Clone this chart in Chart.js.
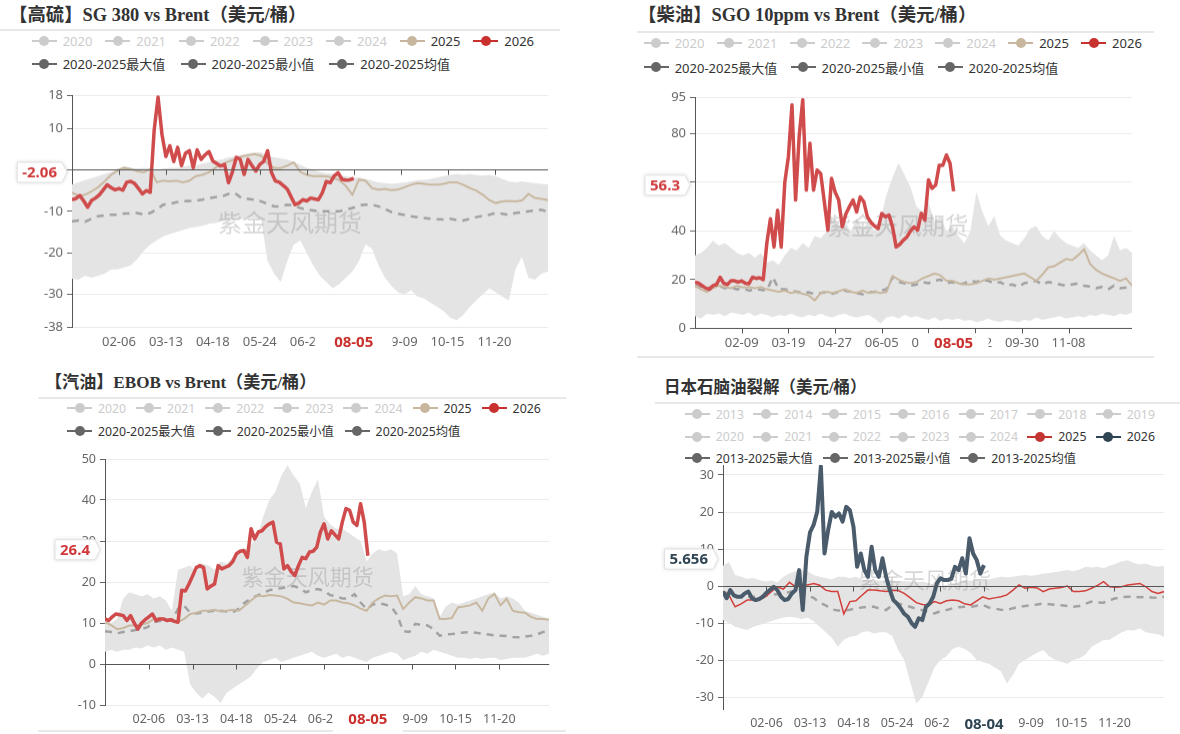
<!DOCTYPE html>
<html>
<head>
<meta charset="utf-8">
<script src="https://cdn.jsdelivr.net/npm/chart.js"></script>
<style>
  body { margin: 0; width: 1180px; height: 734px; background: #fff; position: relative; overflow: hidden;
         font-family: "Noto Sans", "Noto Sans CJK SC", sans-serif; }
  .title { position: absolute; font-weight: bold; font-family: "Liberation Serif", "Noto Sans CJK SC", serif;
           color: #333; white-space: nowrap; line-height: 22px; }
  .rule { position: absolute; height: 2px; background: #e8e8e8; }
  .li { position: absolute; display: flex; align-items: center; height: 18px; white-space: nowrap; color: #333; }
  .li.off { color: #ccc; }
  .li i { position: relative; width: 25px; height: 10px; margin-right: 6px; }
  .li i:before { content: ""; position: absolute; left: 0; width: 25px; top: 4px; height: 2px; background: var(--c); }
  .li i:after { content: ""; position: absolute; left: 7.5px; top: 0; width: 10px; height: 10px; border-radius: 50%; background: var(--c); }
  .box { position: absolute; }
</style>
</head>
<body>
<script>
// x 轴：闰年日期，按天编号 0..365
const monthLen = [31, 29, 31, 30, 31, 30, 31, 31, 30, 31, 30, 31]
const dates = []
monthLen.forEach((n, m) => {
  for (let d = 1; d <= n; d++) dates.push(String(m + 1).padStart(2, '0') + '-' + String(d).padStart(2, '0'))
})
const days5 = []   // 历史区间/均值/2025 的取样日
for (let d = 0; d <= 365; d += 5) days5.push(d)
const days3 = []   // 2026 的取样日
for (let d = 0; d <= 216; d += 3) days3.push(d)
const latestDay = 216

const xTicks36 = [36, 72, 108, 144, 180, 216, 252, 288, 324]
const xTicks39 = [39, 78, 117, 156, 195, 234, 273, 312]

// 【高硫】SG 380 vs Brent
const sgYTicks = [-38, -30, -20, -10, 0, 10, 18]
const sgMax = [-3.5,-3.0,-2.5,-2.0,-1.5,-1.0,-0.5,0.3,0.8,0.5,
  0.3,0.5,0.2,0.0,0.3,0.5,0.4,0.8,1.0,1.0,
  1.5,1.8,2.3,2.5,3.0,3.2,3.6,4.0,4.2,4.2,
  3.5,3.0,2.8,2.5,2.0,1.2,0.5,0.0,-0.5,-0.8,
  -1.0,-1.2,-1.5,-1.8,-1.8,-2.2,-2.6,-3.0,-3.2,-3.4,
  -3.2,-3.0,-2.8,-2.5,-2.4,-2.2,-1.8,-1.5,-1.2,-1.0,
  -1.2,-1.0,-1.3,-1.4,-1.2,-1.6,-2.2,-2.8,-3.0,-2.8,
  -3.0,-3.2,-3.4,-3.5]
const sgMin = [-26.2,-26.5,-25.5,-26,-25.5,-25,-24,-24,-23.5,-23,
  -21.5,-19.5,-18,-17,-16,-15.5,-15,-14.5,-14,-13.8,
  -13.5,-13,-12.8,-12.4,-12.2,-12,-11.8,-11.5,-11.6,-12,
  -22,-25,-27,-22,-18,-17,-20,-23,-25.5,-27,
  -28.5,-27.5,-26,-24.5,-22,-18,-19,-23,-26,-28,
  -29.5,-30,-29,-30.5,-31,-32,-33,-34,-35.6,-36.2,
  -35,-33,-31.5,-30,-28.5,-29.5,-30.5,-31.5,-24,-21,
  -26,-26.5,-25,-24.5]
const sgMean = [-12.4,-12.2,-12.5,-11.8,-11.2,-11.0,-10.8,-10.8,-10.5,-10.5,
  -10.4,-10.8,-10.4,-9.5,-8.4,-8.2,-7.8,-7.6,-7.5,-7.4,
  -7.2,-6.8,-6.6,-6.4,-5.8,-5.6,-6.8,-7.0,-7.2,-7.6,
  -8.2,-8.8,-8.8,-8.4,-8.6,-9.2,-9.6,-9.8,-10.0,-10.0,
  -10.0,-10.0,-9.6,-9.2,-8.6,-8.4,-8.4,-8.8,-9.4,-10.2,
  -10.6,-10.9,-11.2,-11.4,-11.6,-11.8,-11.9,-12.0,-11.8,-12.1,
  -12.2,-11.8,-11.4,-11.1,-10.8,-10.4,-10.6,-10.9,-10.4,-10.2,
  -10.0,-9.8,-9.6,-10.2]
const sg2025 = [-5.5,-6.2,-6.0,-5.2,-4.2,-2.8,-1.2,-0.2,0.5,0.2,
  -0.3,-0.6,0.2,-3.0,-2.6,-2.8,-2.6,-3.0,-2.6,-1.5,
  -1.2,-0.6,0.5,1.3,2.0,2.6,3.2,3.5,3.8,3.4,
  1.5,0.5,0.4,1.0,1.8,-0.5,-1.2,-1.5,-1.5,-1.6,
  -1.9,-2.5,-3.9,-6.0,-2.4,-2.6,-4.4,-4.8,-4.6,-4.9,
  -4.7,-4.2,-3.6,-3.2,-3.4,-3.6,-3.6,-3.4,-3.0,-3.0,
  -3.6,-4.4,-5.0,-6.0,-7.3,-8.0,-7.6,-7.5,-7.6,-7.4,
  -5.8,-6.8,-7.0,-7.3]
const sg2026 = [-7.2,-6.9,-6.2,-7.5,-9.0,-7.4,-6.8,-6.0,-4.8,-3.6,
  -4.3,-4.8,-4.5,-4.9,-3.0,-2.8,-3.3,-4.5,-5.8,-5.0,
  -5.4,9.5,17.5,8.5,3.2,5.8,2.0,5.4,1.0,4.0,
  4.6,0.5,4.8,2.5,3.6,4.4,2.1,1.5,0.9,1.3,
  -3.1,-0.5,3.0,2.5,-1.1,2.5,1.0,-0.3,1.3,2.0,
  4.6,-0.7,-2.7,-3.0,-3.8,-4.6,-6.5,-8.4,-8.0,-7.2,
  -7.5,-6.8,-7.0,-7.2,-5.5,-2.8,-3.1,-1.5,-0.7,-2.3,
  -2.5,-2.4,-2.06]

// 【柴油】SGO 10ppm vs Brent
const sgoYTicks = [0, 20, 40, 60, 80, 95]
const sgoMax = [30,31,33,36,34,35,33,31,30,31,
  29,31,27,28,26,30,33,32,35,33,
  38,37,40,46,42,44,40,45,41,44,
  40,45,55,62,68,63,58,50,48,52,
  44,46,40,42,38,35,40,56,48,42,
  46,38,36,35,34,37,41,42,38,36,
  40,37,35,34,33,35,32,30,28,30,
  38,32,33,31]
const sgoMin = [5,4,6,5.5,6,5,6.5,6,5.5,6.5,
  5,6,5.5,4.5,5.5,5,6,5,4.5,5.5,
  5,6,5,4.5,5.5,6,5,4.5,5,5.5,
  4,2,4.5,5,4,5.5,4.5,5,4,3.5,
  4.5,3,4,3.5,4,3,3.5,2.5,3,4,
  3,2.5,3.5,3,2.5,3.5,3,4.5,3.5,4,
  4.5,5,4,4.5,5,4.5,5.5,5,6,5.5,
  5,6,5.5,6.5]
const sgoMean = [17.5,17,16.5,17,17.5,16.5,16.8,16,16.5,15.5,
  16,15.8,15.5,21,16,16,15.5,15,14.5,14.8,
  14,14.5,15,14.2,15,15.5,15,14.5,14,14.8,
  15,15.5,16,21,19,18.5,17.5,18,19,18.5,
  19.5,20,18.5,19,18,18.5,19.5,19,20,19.5,
  18.5,19,17.5,18,17,18.5,19,19.5,18,19,
  18.5,18,17.5,18,18.5,17.5,17.2,16.5,17,16,
  17.5,16.5,16.8,17.5]
const sgo2025 = [17.5,16,15,16.5,17.5,17,16.5,17.5,16.8,17,
  16.5,17,16,15.5,15,15.5,14.5,15,14.2,13.5,
  11.5,14.5,15,14.5,15.2,16,15,14.5,15.5,14.5,
  15,14.5,15,21.5,20,19,18.5,19,20.5,21.5,
  22.5,21.8,19.5,19.5,18.5,18,18,18.5,19.5,20.5,
  20,20.5,21,21.5,22,22.5,21,19.5,22,25,
  25.5,27,28.5,28,30,32.5,26.5,24,22.5,21.5,
  20.5,19.5,20.5,17.5]
const sgo2026 = [19,18.5,17.5,16.5,16,17.5,18,21,18.5,18,
  19.5,19.5,19,19.5,18.5,18.3,21,20.5,20.8,20,
  35,45,33.4,48.5,33.4,60,70.5,91.8,52.7,78.8,
  93.9,56.8,76,56.8,65,63.6,52,40.3,61.6,56,
  52.7,41.7,47,50,52.7,47.8,54,52,45.8,43.5,
  42,41,47.2,45.8,46.5,41.7,33.4,34.5,36.2,37.5,
  40,41.7,40.3,47.2,44.4,61,57.5,58.8,67,67,
  71.2,67.8,56.3]

// 【汽油】EBOB vs Brent
const ebYTicks = [-10, 0, 10, 20, 30, 40, 50]
const ebMax = [10.5,10,11,16,17.5,17,16.5,17,16,16.5,
  15.5,13,23,23.5,24,22.5,24.5,24,23,25,
  24.5,26,27,28,29,31,36,40,42,46,
  48.5,46,44,38,42,45,36,34,33,33,
  32,31,30,25,27,28,27.5,28,27,16.5,
  17,19,17,16.5,16,11.5,14,15,14.5,15,
  15.5,16,16.5,17,17.5,16,16.5,16,15,13,
  12.5,12,11.5,11]
const ebMin = [3,3.5,3,3.5,3.5,4,3.8,4.5,4,4.5,
  3.5,4,3.5,3,-5,-7,-8.5,-7,-8,-9.5,
  -7,-6,-5,-4,-3,-1,0.5,1,1.5,0.5,
  1,1.5,2,2.5,3,2,1.5,2,2.5,1.5,
  2,1.5,1,0.5,1.5,2,2.5,3,2.5,1,
  1.5,2,3,2.5,3.5,3,2.5,2,1.5,1.5,
  1.2,1.5,1.2,1.5,1.5,1,1.2,1.5,1.5,1.5,
  2,2.5,2,2.5]
const ebMean = [8,7.8,7.5,7.8,8,8.3,8.5,9,10.2,10.5,
  10.8,10.5,13.5,14.2,12.5,12.3,12.5,12.8,13,13,
  12.8,12.6,13.5,15,16,16.7,17.3,18,18.3,18.5,
  18.8,19,18.5,17.5,18,18.3,17.8,16.8,16.5,16,
  16,17,15,13.4,14.5,14.8,14.5,14,12,8,
  7.8,9.8,9.5,9.4,8.5,6.9,7.2,7.3,7.5,7.7,
  7.8,7.6,7.4,7.2,7,6.9,6.8,6.6,6.5,6.7,
  6.9,7.2,7.8,8.2]
const eb2025 = [10.2,9.5,8.5,8.8,9.4,9.4,9.6,10,11,11.2,
  11,11,10.2,11,12.2,12.5,13,13,13.2,12.8,
  13,13.2,13,14.2,15.5,16.7,16.5,16.8,16.7,16.5,
  15.9,15,14.8,14.5,14.3,15,14.5,15.5,15.5,15,
  14.8,14.3,13.5,13,15,16,16.7,16.5,16.7,13.4,
  15,16.3,16,15.5,15.5,11,11,11.2,13.8,14,
  14.3,15,13,16,17.1,14.3,15.9,13,12.6,12.5,
  11.5,11,11,10.8]
const eb2026 = [11,10.6,11.5,12.2,12,11.8,10.6,11.8,10,8.5,
  10,10.8,11.5,12.2,10.6,11,11,10.6,10.8,10.4,
  10.2,18,17.8,19.5,21.5,23.5,24,23.5,18.3,19,
  19.5,24,23.2,23.6,24,25,26.9,27.5,27.7,26,
  33,30.5,32.2,32.5,33.5,34.2,34.6,29.7,29.3,23.2,
  24,22.5,21.6,24,26,25.7,27.3,27.5,28.5,32.2,
  34.2,30.5,32.5,31.5,30.5,34.6,37.9,37.5,34.6,33.8,
  39.1,34.6,26.4]

// 日本石脑油裂解
const npYTicks = [-30, -20, -10, 0, 10, 20, 30]
const npMax = [5.5,6.5,3,2.5,2,2.2,1.6,1.2,1.5,1.0,
  2.5,3.4,4,4.3,4,3,2.5,2.2,1.8,2.5,
  2.5,2.2,2.5,1.8,1.5,1.6,1.4,1.6,1.5,1.2,
  1.3,1.2,1.0,1.2,0.8,0.3,0,0.2,0.5,1.0,
  1.6,1.4,1.6,1.5,1.8,2.2,2.5,2.4,2.5,2.8,
  3.0,2.8,3.0,3.4,3.5,3.8,4.0,4.3,4.0,4.5,
  5.2,5.0,5.2,4.8,5.5,6.0,6.6,7.0,6.2,5.8,
  6.1,5.5,5.2,5.5]
const npMin = [-9.2,-10,-11,-11.5,-11.9,-11,-10.5,-10,-9.5,-9,
  -8.5,-8.3,-8.5,-9,-8.5,-9.5,-11,-12.5,-14,-16.4,
  -14.5,-13.7,-13.5,-12.5,-12.2,-12.8,-12.5,-12.5,-13.5,-17.3,
  -20,-26,-31.7,-30,-26,-22,-20,-19,-17,-16.4,
  -17,-18,-20,-20.5,-21,-22,-23,-26.3,-24,-21,
  -20,-19,-18,-17.3,-19,-20,-20.5,-21,-20,-19.5,
  -18.5,-16.4,-15.5,-14.6,-14.5,-13.5,-12.5,-11.9,-12,-11.5,
  -12.5,-12.8,-13,-13.7]
const npMean = [-1.5,-2.2,-2.8,-2.9,-3.0,-2.9,-2.7,-2.6,-2.4,-2.2,
  -2.0,-1.6,-1.2,-1.5,-2.6,-3.2,-4.5,-5.2,-6.3,-6.6,
  -6.6,-6.4,-6.0,-5.8,-5.6,-5.6,-6.2,-6.5,-5.2,-4.7,
  -5.2,-5.6,-6.2,-6.5,-7.0,-7.4,-6.8,-6.5,-6.0,-5.7,
  -5.6,-5.6,-5.3,-5.1,-5.8,-6.1,-6.4,-6.5,-6.0,-5.6,
  -5.4,-5.2,-5.0,-4.7,-4.9,-5.1,-5.2,-5.4,-5.6,-5.4,
  -4.8,-4.2,-4.4,-4.5,-3.8,-3.3,-3.0,-2.9,-2.9,-3.0,
  -2.9,-3.1,-3.2,-2.9]
const np2025 = [-1.5,-2.5,-5.6,-4.8,-3.8,-3.8,-3.5,-2.9,-1.5,-0.2,
  -0.8,1.0,-0.2,0.5,0.3,0.7,0.2,-1.1,-1.5,-1.5,
  -7.5,-4.2,-4.0,-2.5,-1.1,-1.1,-1.3,-1.5,-1.2,-1.2,
  -2.0,-3.2,-4.5,-5.0,-5.1,-4.2,-4.7,-4.0,-3.8,-4.0,
  -4.8,-5.1,-4.0,-2.9,-3.5,-3.2,-2.9,-2.4,-1.1,0.3,
  -0.6,-0.3,-0.5,-1.5,-0.8,-0.6,-0.4,0.0,-1.5,-1.5,
  -1.3,-0.6,0.2,1.2,-0.2,-0.3,-0.2,0.3,0.5,0.7,
  -0.2,-1.5,-2.0,-1.5]
const np2026 = [-1.5,-3.3,-1.1,-2.5,-2.9,-2.9,-2.0,-1.5,-3.3,-3.8,
  -3.5,-2.9,-1.8,-1.0,-0.2,-1.1,-2.9,-3.8,-3.5,-2.0,
  -1.1,4.3,-6.5,7.9,14.5,16.5,20.1,32.3,8.8,15.1,
  20,18.7,19.6,17.4,21.4,20.5,16,5.2,8.8,4.3,
  2.5,10.6,4.3,2.5,7.5,2.5,-1.0,-3.8,-4.7,-6.0,
  -7.5,-8.3,-10,-11,-8.7,-9.2,-5.6,-4.7,-2.9,0.7,
  2.1,1.6,1.6,2,5.2,4.3,7.5,3.4,12.9,8.8,
  7.0,3.4,5.656]

const years = ['2020', '2021', '2022', '2023', '2024']
const oldYears = ['2013', '2014', '2015', '2016', '2017', '2018', '2019']

Chart.defaults.font.family = '"Noto Sans", "Noto Sans CJK SC", sans-serif'

const pts = (xs, ys) => ys.map((y, i) => ({ x: xs[i], y }))

function el(tag, cls, css, html) {
  const e = document.createElement(tag)
  e.className = cls
  e.style.cssText = css
  if (html) e.innerHTML = html
  document.body.appendChild(e)
  return e
}

function legendRow(x0, yc, pitch, size, items) {
  items.forEach(([t, c, off], i) => {
    el('span', 'li' + (off ? ' off' : ''), `left:${x0 + i * pitch}px;top:${yc - 9}px;font-size:${size}px`,
      `<i style="--c:${c}"></i>${t}`)
  })
}

const overlay = {
  id: 'overlay',
  beforeDatasetDraw(chart, args, o) {
    if (args.index !== 2) return
    const ctx = chart.ctx
    ctx.save()
    ctx.font = o.wmSize + 'px "Noto Sans CJK SC"'
    ctx.fillStyle = 'rgba(140,140,140,0.35)'
    ctx.textAlign = 'center'
    ctx.textBaseline = 'middle'
    ctx.fillText('紫金天风期货', o.wmX, o.wmY)
    ctx.restore()
  },
  afterDatasetsDraw(chart, args, o) {
    const { ctx, chartArea: a, scales: { x, y } } = chart
    const y0 = Math.round(y.getPixelForValue(0)) + 0.5
    ctx.save()
    ctx.strokeStyle = '#555'
    ctx.lineWidth = 1
    ctx.beginPath()
    ctx.moveTo(a.left, y0)
    ctx.lineTo(a.right, y0)
    o.xTicks.forEach(v => {
      const px = Math.round(x.getPixelForValue(v)) + 0.5
      ctx.moveTo(px, y0)
      ctx.lineTo(px, y0 + 5)
    })
    ctx.stroke()
    ctx.restore()
  },
  afterDraw(chart, args, o) {
    const { ctx, chartArea: a, scales: { x, y } } = chart
    ctx.save()
    // 最新日期
    const px = x.getPixelForValue(o.day)
    ctx.fillStyle = '#fff'
    ctx.fillRect(px - o.boxW / 2, a.bottom + 5, o.boxW, 22)
    ctx.font = 'bold 15px "Noto Sans"'
    ctx.textAlign = 'center'
    ctx.textBaseline = 'middle'
    ctx.fillStyle = o.dateColor
    ctx.fillText(o.date, px, a.bottom + 15)
    // 最新值
    const txt = String(o.value)
    const tw = ctx.measureText(txt).width
    const yc = y.getPixelForValue(o.value) - 6
    const x1 = a.left - 5, x0 = x1 - tw - 15, h = 20
    ctx.beginPath()
    ctx.moveTo(x0, yc - h / 2)
    ctx.lineTo(x1 - 5, yc - h / 2)
    ctx.lineTo(x1, yc)
    ctx.lineTo(x1 - 5, yc + h / 2)
    ctx.lineTo(x0, yc + h / 2)
    ctx.closePath()
    ctx.shadowColor = 'rgba(0,0,0,0.18)'
    ctx.shadowBlur = 4
    ctx.fillStyle = '#fff'
    ctx.fill()
    ctx.shadowColor = 'transparent'
    ctx.strokeStyle = '#e2e2e2'
    ctx.lineWidth = 1
    ctx.stroke()
    ctx.fillStyle = o.valueColor
    ctx.fillText(txt, (x0 + x1 - 5) / 2, yc + 0.5)
    ctx.restore()
  }
}

function drawPanel(p) {
  const left = p.L - 70, top = p.T - 12
  const w = p.R - p.L + 82, h = p.B - p.T + 44
  const box = el('div', 'box', `left:${left}px;top:${top}px;width:${w}px;height:${h}px`)
  const cv = document.createElement('canvas')
  box.appendChild(cv)
  new Chart(cv, {
    type: 'line',
    data: {
      datasets: [
        { data: pts(days5, p.max), borderWidth: 0, pointRadius: 0, fill: '+1', backgroundColor: '#e4e4e4', order: 4 },
        { data: pts(days5, p.min), borderWidth: 0, pointRadius: 0, fill: false, order: 3 },
        { data: pts(days5, p.mean), borderColor: '#a2a2a2', borderWidth: 2.5, borderDash: [7, 6], pointRadius: 0, fill: false, order: 2 },
        { data: pts(days5, p.y25), borderColor: p.c25, borderWidth: p.w25, pointRadius: 0, fill: false, order: 1 },
        { data: pts(days3, p.y26), borderColor: p.c26, borderWidth: p.w26, borderJoinStyle: 'round', pointRadius: 0, fill: false, order: 0 }
      ]
    },
    options: {
      responsive: true,
      maintainAspectRatio: false,
      animation: false,
      events: [],
      layout: { padding: { top: 12, right: 12, left: 0, bottom: 0 } },
      elements: { line: { tension: 0 } },
      plugins: {
        legend: { display: false },
        tooltip: { enabled: false },
        overlay: {
          xTicks: p.xTicks, day: latestDay, date: p.date, dateColor: p.dateColor, boxW: p.boxW,
          value: p.y26[p.y26.length - 1], valueColor: p.valueColor,
          wmX: p.wm[0] - left, wmY: p.wm[1] - top, wmSize: p.wm[2]
        }
      },
      scales: {
        x: {
          type: 'linear', min: 0, max: 365,
          grid: { display: false, drawTicks: false },
          border: { display: false },
          afterBuildTicks: s => { s.ticks = p.xTicks.map(v => ({ value: v })) },
          afterFit: s => { s.height = 32 },
          ticks: { autoSkip: false, maxRotation: 0, padding: 7, color: '#666', font: { size: p.tick }, callback: v => dates[v] }
        },
        y: {
          min: p.yMin, max: p.yMax,
          afterBuildTicks: s => { s.ticks = p.yTicks.map(v => ({ value: v })) },
          afterFit: s => { s.width = 70 },
          grid: { color: '#ebebeb', tickColor: '#666', tickLength: 5 },
          border: { color: '#555' },
          ticks: { autoSkip: false, padding: 4, color: '#666', font: { size: p.tick } }
        }
      }
    },
    plugins: [overlay]
  })
}

// 标题、分隔线、图例
el('div', 'title', 'left:9px;top:4px;font-size:18.4px', '【高硫】SG 380 vs Brent（美元/桶）')
el('div', 'rule', 'left:0;top:29px;width:560px')
el('div', 'title', 'left:638px;top:4px;font-size:18.4px', '【柴油】SGO 10ppm vs Brent（美元/桶）')
el('div', 'rule', 'left:637px;top:31px;width:517px')
el('div', 'rule', 'left:637px;top:356px;width:517px')
el('div', 'title', 'left:45px;top:372px;font-size:17.1px', '【汽油】EBOB vs Brent（美元/桶）')
el('div', 'rule', 'left:38px;top:397px;width:528px')
el('div', 'rule', 'left:38px;top:730px;width:528px')
el('div', 'title', 'left:664px;top:377px;font-size:16.5px', '日本石脑油裂解（美元/桶）')
el('div', 'rule', 'left:655px;top:402px;width:525px')

const rowYears = c25 => years.map(t => [t, '#ccc', true]).concat([['2025', c25], ['2026', '#c8312e']])
const rowStats = span => ['最大值', '最小值', '均值'].map(t => [span + t, '#666'])

legendRow(31.7, 41.3, 73.6, 13, rowYears('#c8b79e'))
legendRow(31.7, 63.5, 148.8, 13, rowStats('2020-2025'))
legendRow(643.7, 43, 72.9, 13, rowYears('#c8b79e'))
legendRow(643.7, 67, 146.9, 13, rowStats('2020-2025'))
legendRow(67, 408.3, 69.1, 12.3, rowYears('#c8b79e'))
legendRow(67, 430.7, 138.8, 12.3, rowStats('2020-2025'))
legendRow(684.8, 414.3, 68.5, 12.3, oldYears.map(t => [t, '#ccc', true]))
legendRow(684.8, 436.7, 68.5, 12.3, years.map(t => [t, '#ccc', true]).concat([['2025', '#c23531'], ['2026', '#2f4554']]))
legendRow(684.8, 458.3, 137.7, 12.3, rowStats('2013-2025'))

const red = { c25: '#c9b8a0', w25: 2, c26: '#d04b4b', w26: 3.5, dateColor: '#c9302c', valueColor: '#d0393b' }

drawPanel(Object.assign({ L: 72, R: 548, T: 95, B: 326.7, yMin: -38, yMax: 18, yTicks: sgYTicks, xTicks: xTicks36,
  max: sgMax, min: sgMin, mean: sgMean, y25: sg2025, y26: sg2026, date: '08-05', boxW: 78, wm: [290, 222, 24], tick: 13 }, red))
drawPanel(Object.assign({ L: 695, R: 1132, T: 97.3, B: 327.7, yMin: 0, yMax: 95, yTicks: sgoYTicks, xTicks: xTicks39,
  max: sgoMax, min: sgoMin, mean: sgoMean, y25: sgo2025, y26: sgo2026, date: '08-05', boxW: 70, wm: [898, 225, 23.5], tick: 13 }, red))
drawPanel(Object.assign({ L: 105.2, R: 549.4, T: 458.7, B: 704.7, yMin: -10, yMax: 50, yTicks: ebYTicks, xTicks: xTicks36,
  max: ebMax, min: ebMin, mean: ebMean, y25: eb2025, y26: eb2026, date: '08-05', boxW: 70, wm: [308, 576, 22], tick: 12.5 }, red))
drawPanel({ L: 723, R: 1164, T: 465, B: 709.3, yMin: -33.3, yMax: 32.7, yTicks: npYTicks, xTicks: xTicks36,
  max: npMax, min: npMin, mean: npMean, y25: np2025, y26: np2026, date: '08-04', boxW: 70, wm: [925, 580, 22], tick: 12.5,
  c25: '#d23f3a', w25: 1.5, c26: '#4a5b6c', w26: 4, dateColor: '#2f4554', valueColor: '#2f4554' })
</script>
</body>
</html>
